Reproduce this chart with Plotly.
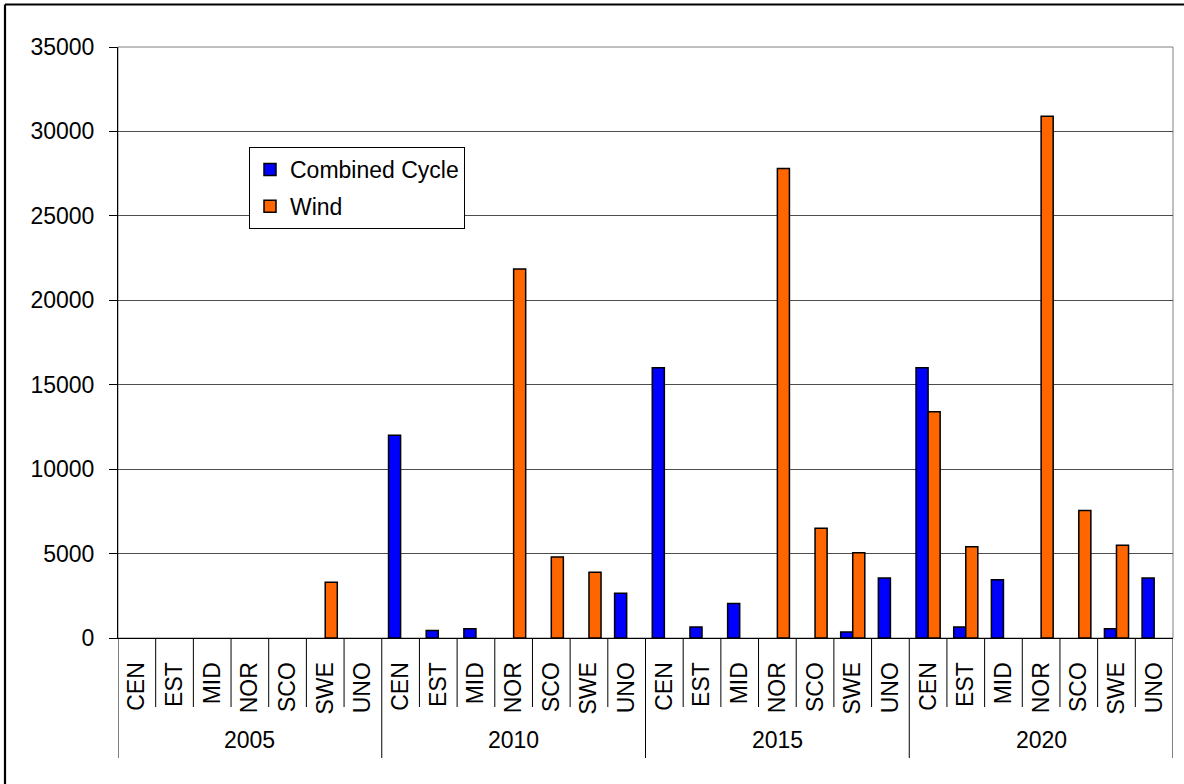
import plotly.graph_objects as go

# Installed capacity by region and year
years = ["2005", "2010", "2015", "2020"]
regions = ["CEN", "EST", "MID", "NOR", "SCO", "SWE", "UNO"]

combined_cycle = [
    0, 0, 0, 0, 0, 0, 0,                    # 2005
    12000, 450, 550, 0, 0, 0, 2650,         # 2010
    16000, 650, 2050, 0, 0, 350, 3550,      # 2015
    16000, 650, 3450, 0, 0, 550, 3550,      # 2020
]
wind = [
    0, 0, 0, 0, 0, 3300, 0,                 # 2005
    0, 0, 0, 21850, 4800, 3900, 0,          # 2010
    0, 0, 0, 27800, 6500, 5050, 0,          # 2015
    13400, 5400, 0, 30900, 7550, 5500, 0,   # 2020
]

y_ticks = [0, 5000, 10000, 15000, 20000, 25000, 30000, 35000]

n_reg = len(regions)
n = len(years) * n_reg
positions = list(range(n))
tick_text = regions * len(years)

FONT = "Liberation Sans, Arial, sans-serif"
FS = 23

W, H = 1184, 784
ML, MR, MT, MB = 118, 11, 47, 146
PW, PH = W - ML - MR, H - MT - MB


def px_to_paper_y(py):
    return (H - MB - py) / PH


def px_to_paper_x(px):
    return (px - ML) / PW


def nonzero(values):
    # empty slots keep their place in the group but draw nothing
    return [v if v else None for v in values]


fig = go.Figure()
fig.add_trace(go.Bar(
    x=positions, y=nonzero(combined_cycle), name="Combined Cycle",
    marker=dict(color="#0000FF", line=dict(color="black", width=1.5)),
    legendgroup="cc",
))
fig.add_trace(go.Bar(
    x=positions, y=nonzero(wind), name="Wind",
    marker=dict(color="#FF6600", line=dict(color="black", width=1.5)),
    legendgroup="wind",
))

shapes = []
# plot area frame (grey)
shapes.append(dict(type="rect", xref="paper", yref="paper", x0=0, x1=1, y0=0, y1=1,
                   line=dict(color="#808080", width=1), layer="below"))
# category separators below the axis; longer ones between years
inner_bottom = px_to_paper_y(707)
outer_bottom = px_to_paper_y(758)
for k in range(n + 1):
    shapes.append(dict(type="line", xref="x", yref="paper",
                       x0=k - 0.5, x1=k - 0.5, y0=0,
                       y1=outer_bottom if k % n_reg == 0 else inner_bottom,
                       line=dict(color="black", width=1)))
# outer chart frame
fx = px_to_paper_x(5)
fy = px_to_paper_y(4.5)
shapes.append(dict(type="line", xref="paper", yref="paper", x0=fx, x1=fx, y0=fy, y1=-0.4,
                   line=dict(color="black", width=2.2)))
shapes.append(dict(type="line", xref="paper", yref="paper", x0=fx, x1=1.1, y0=fy, y1=fy,
                   line=dict(color="black", width=2.2)))

annotations = []
for i, yr in enumerate(years):
    annotations.append(dict(
        x=i * n_reg + (n_reg - 1) / 2, xref="x",
        y=px_to_paper_y(740), yref="paper", yanchor="middle",
        text=yr, showarrow=False, font=dict(family=FONT, size=FS, color="black"),
    ))

fig.update_layout(
    width=W, height=H,
    margin=dict(l=ML, r=MR, t=MT, b=MB),
    paper_bgcolor="white", plot_bgcolor="white",
    font=dict(family=FONT, size=FS, color="black"),
    barmode="group", bargap=0.36, bargroupgap=0,
    showlegend=True,
    legend=dict(
        x=px_to_paper_x(249), y=px_to_paper_y(147), xanchor="left", yanchor="top",
        bgcolor="white", bordercolor="black", borderwidth=1,
        font=dict(family=FONT, size=FS, color="black"),
        tracegroupgap=4, traceorder="grouped",
    ),
    shapes=shapes,
    annotations=annotations,
)
fig.update_xaxes(
    range=[-0.5, n - 0.5], tickmode="array", tickvals=positions, ticktext=tick_text,
    tickangle=-90, ticks="", showgrid=False, zeroline=False,
    showline=True, linecolor="black", linewidth=1,
    ticklabelstandoff=14,
    tickfont=dict(family=FONT, size=FS, color="black"),
)
fig.update_yaxes(
    range=[0, 35000], tickmode="array", tickvals=y_ticks,
    ticktext=[str(v) for v in y_ticks],
    ticks="outside", ticklen=8, tickcolor="black",
    showgrid=True, gridcolor="#4d4d4d", gridwidth=1, zeroline=False,
    showline=True, linecolor="black", linewidth=1,
    ticklabelstandoff=10,
    tickfont=dict(family=FONT, size=FS, color="black"),
)

fig.write_html("out.html")
